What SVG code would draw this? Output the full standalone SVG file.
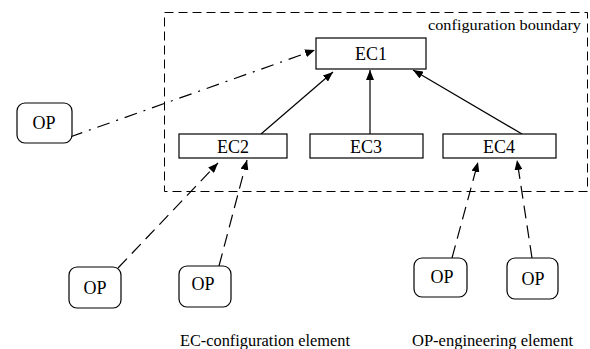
<svg xmlns="http://www.w3.org/2000/svg" width="590" height="349" viewBox="0 0 590 349">
<style>
text{font-family:"Liberation Serif","Times New Roman",serif;fill:#000}
.ec{fill:#fff;stroke:#000;stroke-width:1.2}
.op{fill:#fff;stroke:#000;stroke-width:1.2}
.lbl{font-size:18px;text-anchor:middle}
.solid{stroke:#000;stroke-width:1.2;fill:none}
.dash{stroke:#000;stroke-width:1.2;fill:none;stroke-dasharray:13,7}
.dashdot{stroke:#000;stroke-width:1.2;fill:none;stroke-dasharray:13,7,2,7}
</style>
<defs>
<marker id="ah" viewBox="0 0 10 8" refX="10" refY="4" markerWidth="10" markerHeight="8" markerUnits="userSpaceOnUse" orient="auto">
<path d="M0,0 L10,4 L0,8 Z" fill="#000"/>
</marker>
</defs>
<g id="boundary">
<rect x="164.5" y="12.5" width="423" height="179" fill="none" stroke="#000" stroke-width="1" stroke-dasharray="9,5"/>
<text x="428" y="30" font-size="15" textLength="153" lengthAdjust="spacingAndGlyphs">configuration boundary</text>
</g>
<g id="connectors">
<line class="solid" x1="261" y1="134" x2="333" y2="72" marker-end="url(#ah)"/>
<line class="solid" x1="370" y1="134" x2="370" y2="70" marker-end="url(#ah)"/>
<line class="solid" x1="522" y1="134" x2="413" y2="70" marker-end="url(#ah)"/>
<line class="dashdot" x1="70" y1="137" x2="315" y2="50" marker-end="url(#ah)"/>
<line class="dash" x1="118" y1="268" x2="218" y2="163" marker-end="url(#ah)"/>
<line class="dash" x1="219" y1="266" x2="247" y2="160" marker-end="url(#ah)"/>
<line class="dash" x1="452" y1="258" x2="478" y2="162" marker-end="url(#ah)"/>
<line class="dash" x1="532" y1="258" x2="517" y2="160" marker-end="url(#ah)"/>
</g>
<g id="EC1">
<rect class="ec" x="316" y="38" width="110" height="31"/>
<text class="lbl" x="371" y="60">EC1</text>
</g>
<g id="EC2">
<rect class="ec" x="179" y="134" width="108" height="24"/>
<text class="lbl" x="233" y="153">EC2</text>
</g>
<g id="EC3">
<rect class="ec" x="310" y="134" width="113" height="24"/>
<text class="lbl" x="366" y="153">EC3</text>
</g>
<g id="EC4">
<rect class="ec" x="443" y="134" width="113" height="24"/>
<text class="lbl" x="499" y="153">EC4</text>
</g>
<g id="OP0">
<rect class="op" x="17" y="103" width="55" height="40" rx="8"/>
<text class="lbl" x="44" y="129">OP</text>
</g>
<g id="OP1">
<rect class="op" x="69" y="267" width="52" height="41" rx="8"/>
<text class="lbl" x="95" y="294">OP</text>
</g>
<g id="OP2">
<rect class="op" x="179" y="266" width="52" height="41" rx="8"/>
<text class="lbl" x="203" y="290">OP</text>
</g>
<g id="OP3">
<rect class="op" x="414" y="258" width="53" height="39" rx="8"/>
<text class="lbl" x="442" y="283">OP</text>
</g>
<g id="OP4">
<rect class="op" x="507" y="258" width="51" height="41" rx="8"/>
<text class="lbl" x="533" y="285">OP</text>
</g>
<g id="legend">
<text x="180" y="346" font-size="16" textLength="170" lengthAdjust="spacingAndGlyphs">EC-configuration element</text>
<text x="412" y="346" font-size="16" textLength="161" lengthAdjust="spacingAndGlyphs">OP-engineering element</text>
</g>
</svg>
